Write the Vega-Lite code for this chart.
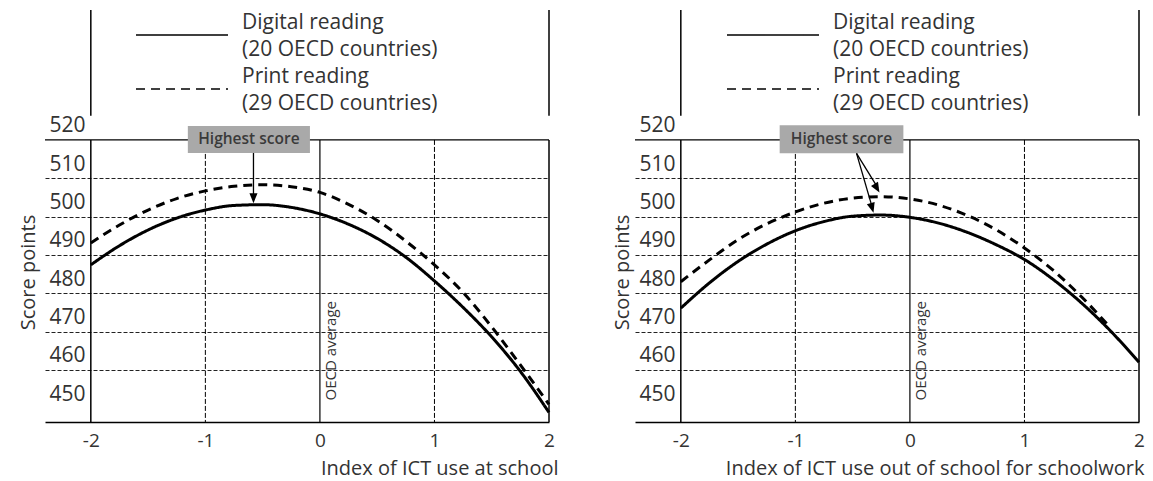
{
  "$schema": "https://vega.github.io/schema/vega-lite/v6.json",
  "background": "white",
  "padding": {"left": 18, "top": 8, "right": 0, "bottom": 8},
  "spacing": 86,
  "bounds": "flush",
  "config": {
    "view": {"stroke": null},
    "font": "Open Sans",
    "axis": {"labelFont": "Open Sans", "titleFont": "Open Sans"},
    "legend": {"labelFont": "Open Sans"},
    "text": {"font": "Open Sans"}
  },
  "datasets": {
    "left": [
      {"x": -2, "score": 487.4, "series": "Digital reading (20 OECD countries)"},
      {"x": -1.75, "score": 492.4, "series": "Digital reading (20 OECD countries)"},
      {"x": -1.5, "score": 496.5, "series": "Digital reading (20 OECD countries)"},
      {"x": -1.25, "score": 499.6, "series": "Digital reading (20 OECD countries)"},
      {"x": -1, "score": 501.7, "series": "Digital reading (20 OECD countries)"},
      {"x": -0.75, "score": 502.9, "series": "Digital reading (20 OECD countries)"},
      {"x": -0.5, "score": 503.1, "series": "Digital reading (20 OECD countries)"},
      {"x": -0.25, "score": 502.4, "series": "Digital reading (20 OECD countries)"},
      {"x": 0, "score": 500.7, "series": "Digital reading (20 OECD countries)"},
      {"x": 0.25, "score": 498.0, "series": "Digital reading (20 OECD countries)"},
      {"x": 0.5, "score": 494.3, "series": "Digital reading (20 OECD countries)"},
      {"x": 0.75, "score": 489.4, "series": "Digital reading (20 OECD countries)"},
      {"x": 1, "score": 483.2, "series": "Digital reading (20 OECD countries)"},
      {"x": 1.25, "score": 476.3, "series": "Digital reading (20 OECD countries)"},
      {"x": 1.5, "score": 468.6, "series": "Digital reading (20 OECD countries)"},
      {"x": 1.75, "score": 459.6, "series": "Digital reading (20 OECD countries)"},
      {"x": 2, "score": 448.9, "series": "Digital reading (20 OECD countries)"},
      {"x": -2, "score": 493.1, "series": "Print reading (29 OECD countries)"},
      {"x": -1.75, "score": 497.8, "series": "Print reading (29 OECD countries)"},
      {"x": -1.5, "score": 501.7, "series": "Print reading (29 OECD countries)"},
      {"x": -1.25, "score": 504.7, "series": "Print reading (29 OECD countries)"},
      {"x": -1, "score": 506.7, "series": "Print reading (29 OECD countries)"},
      {"x": -0.75, "score": 507.9, "series": "Print reading (29 OECD countries)"},
      {"x": -0.5, "score": 508.3, "series": "Print reading (29 OECD countries)"},
      {"x": -0.25, "score": 507.8, "series": "Print reading (29 OECD countries)"},
      {"x": 0, "score": 506.3, "series": "Print reading (29 OECD countries)"},
      {"x": 0.25, "score": 503.2, "series": "Print reading (29 OECD countries)"},
      {"x": 0.5, "score": 499.0, "series": "Print reading (29 OECD countries)"},
      {"x": 0.75, "score": 493.6, "series": "Print reading (29 OECD countries)"},
      {"x": 1, "score": 487.4, "series": "Print reading (29 OECD countries)"},
      {"x": 1.25, "score": 480.2, "series": "Print reading (29 OECD countries)"},
      {"x": 1.5, "score": 471.2, "series": "Print reading (29 OECD countries)"},
      {"x": 1.75, "score": 461.3, "series": "Print reading (29 OECD countries)"},
      {"x": 2, "score": 451.0, "series": "Print reading (29 OECD countries)"}
    ],
    "right": [
      {"x": -2, "score": 476.1, "series": "Digital reading (20 OECD countries)"},
      {"x": -1.75, "score": 482.7, "series": "Digital reading (20 OECD countries)"},
      {"x": -1.5, "score": 488.3, "series": "Digital reading (20 OECD countries)"},
      {"x": -1.25, "score": 492.8, "series": "Digital reading (20 OECD countries)"},
      {"x": -1, "score": 496.3, "series": "Digital reading (20 OECD countries)"},
      {"x": -0.75, "score": 498.7, "series": "Digital reading (20 OECD countries)"},
      {"x": -0.5, "score": 500.1, "series": "Digital reading (20 OECD countries)"},
      {"x": -0.25, "score": 500.4, "series": "Digital reading (20 OECD countries)"},
      {"x": 0, "score": 499.8, "series": "Digital reading (20 OECD countries)"},
      {"x": 0.25, "score": 498.3, "series": "Digital reading (20 OECD countries)"},
      {"x": 0.5, "score": 495.9, "series": "Digital reading (20 OECD countries)"},
      {"x": 0.75, "score": 492.7, "series": "Digital reading (20 OECD countries)"},
      {"x": 1, "score": 488.8, "series": "Digital reading (20 OECD countries)"},
      {"x": 1.25, "score": 483.6, "series": "Digital reading (20 OECD countries)"},
      {"x": 1.5, "score": 477.4, "series": "Digital reading (20 OECD countries)"},
      {"x": 1.75, "score": 470.2, "series": "Digital reading (20 OECD countries)"},
      {"x": 2, "score": 462.0, "series": "Digital reading (20 OECD countries)"},
      {"x": -2, "score": 483.0, "series": "Print reading (29 OECD countries)"},
      {"x": -1.75, "score": 488.7, "series": "Print reading (29 OECD countries)"},
      {"x": -1.5, "score": 494.0, "series": "Print reading (29 OECD countries)"},
      {"x": -1.25, "score": 498.1, "series": "Print reading (29 OECD countries)"},
      {"x": -1, "score": 501.2, "series": "Print reading (29 OECD countries)"},
      {"x": -0.75, "score": 503.5, "series": "Print reading (29 OECD countries)"},
      {"x": -0.5, "score": 504.8, "series": "Print reading (29 OECD countries)"},
      {"x": -0.25, "score": 505.2, "series": "Print reading (29 OECD countries)"},
      {"x": 0, "score": 504.6, "series": "Print reading (29 OECD countries)"},
      {"x": 0.25, "score": 503.0, "series": "Print reading (29 OECD countries)"},
      {"x": 0.5, "score": 500.3, "series": "Print reading (29 OECD countries)"},
      {"x": 0.75, "score": 496.6, "series": "Print reading (29 OECD countries)"},
      {"x": 1, "score": 491.8, "series": "Print reading (29 OECD countries)"},
      {"x": 1.25, "score": 486.0, "series": "Print reading (29 OECD countries)"},
      {"x": 1.5, "score": 479.0, "series": "Print reading (29 OECD countries)"},
      {"x": 1.75, "score": 471.0, "series": "Print reading (29 OECD countries)"}
    ],
    "one": [{"note": "annotation"}],
    "innerLines": [{"v": -1}, {"v": 1}],
    "frameLines": [{"v": -2}, {"v": 2}]
  },
  "resolve": {"scale": {"strokeDash": "independent"}, "legend": {"strokeDash": "independent"}},
  "hconcat": [
    {
      "width": 504,
      "height": 412,
      "layer": [
        {"data": {"name": "left"},
         "mark": {"type": "line", "interpolate": "monotone", "strokeWidth": 3, "color": "black"},
         "encoding": {
           "x": {"field": "x", "type": "quantitative", "scale": {"domain": [-2.4, 2], "nice": false, "zero": false},
                 "axis": {"values": [-2, -1, 0, 1, 2], "title": "Index of ICT use at school", "grid": false, "ticks": false,
                          "domain": true, "domainColor": "black", "domainWidth": 1.5, "labelFontSize": 19, "labelPadding": 9,
                          "labelColor": "#333", "labelFlush": false,
                          "labelExpr": "datum.value < 0 ? '-' + abs(datum.value) : '' + datum.value",
                          "titleFontSize": 20, "titleFontWeight": "normal", "titleColor": "#333",
                          "titleX": 513, "titleY": 46, "titleAlign": "right", "titleBaseline": "middle"}},
           "y": {"field": "score", "type": "quantitative", "scale": {"domain": [446.4, 553.9], "nice": false, "zero": false},
                 "axis": {"values": [450, 460, 470, 480, 490, 500, 510, 520], "title": "Score points",
                          "grid": true, "gridDash": [4, 2], "gridColor": "#222", "gridWidth": 1,
                          "gridOpacity": {"condition": {"test": "datum.value < 455 || datum.value > 515", "value": 0}, "value": 1},
                          "domain": false, "ticks": false, "tickSize": 0, "labelPadding": -40, "labelAlign": "right",
                          "labelBaseline": "middle", "labelOffset": -14, "labelFontSize": 21, "labelColor": "#333",
                          "labelFlush": false, "labelOverlap": false,
                          "titleFontSize": 20, "titleFontWeight": "normal", "titleColor": "#333",
                          "titleX": -17, "titleY": 262, "titleAlign": "center", "titleBaseline": "middle", "titleAngle": -90}},
           "strokeDash": {"field": "series", "type": "nominal",
                          "scale": {"domain": ["Digital reading (20 OECD countries)", "Print reading (29 OECD countries)"], "range": [[1, 0], [9, 6]]},
                          "legend": {"orient": "none", "legendX": 90, "legendY": -2, "title": null, "symbolType": "stroke",
                                     "symbolSize": 8464, "symbolStrokeWidth": 1.5, "symbolStrokeColor": "black", "clipHeight": 54,
                                     "rowPadding": 0, "padding": 0, "labelFontSize": 21, "labelColor": "#333", "labelOffset": 13,
                                     "labelLimit": 0, "labelBaseline": "middle",
                                     "labelExpr": "[slice(datum.label, 0, indexof(datum.label, ' (')), slice(datum.label, indexof(datum.label, ' (') + 1)]",
                                     "encode": {"symbols": {"update": {"strokeDash": {"signal": "indexof(datum.value, 'Print') == 0 ? [4, 2] : [1, 0]"}}},
                                                "labels": {"update": {"lineHeight": {"value": 27}, "dy": {"value": -12.5}}}}}}
         }},
        {"data": {"name": "one"}, "mark": {"type": "rule", "color": "black", "strokeWidth": 1.3},
         "encoding": {"y": {"datum": 520, "type": "quantitative"}}},
        {"data": {"name": "innerLines"}, "mark": {"type": "rule", "color": "black", "strokeWidth": 1, "strokeDash": [5, 2]},
         "encoding": {"x": {"field": "v", "type": "quantitative"},
                      "y": {"datum": 520, "type": "quantitative"},
                      "y2": {"datum": 446.4}}},
        {"data": {"name": "one"}, "mark": {"type": "rule", "color": "black", "strokeWidth": 1.2},
         "encoding": {"x": {"datum": 0, "type": "quantitative"},
                      "y": {"datum": 520, "type": "quantitative"},
                      "y2": {"datum": 446.4}}},
        {"data": {"name": "frameLines"}, "mark": {"type": "rule", "color": "black", "strokeWidth": 1.5},
         "encoding": {"x": {"field": "v", "type": "quantitative"},
                      "y": {"datum": 520, "type": "quantitative"},
                      "y2": {"datum": 446.4}}},
        {"data": {"name": "frameLines"}, "mark": {"type": "rule", "color": "black", "strokeWidth": 1.5},
         "encoding": {"x": {"field": "v", "type": "quantitative"},
                      "y": {"datum": 553.9, "type": "quantitative"},
                      "y2": {"datum": 526.3}}},
        {"data": {"name": "one"}, "mark": {"type": "text", "text": "OECD average", "angle": 270, "align": "left", "baseline": "top", "dy": 4, "fontSize": 15, "color": "#333"},
         "encoding": {"x": {"datum": 0, "type": "quantitative"},
                      "y": {"datum": 452, "type": "quantitative"}}},
        {"data": {"name": "one"}, "mark": {"type": "rect", "color": "#a9a9a9"},
         "encoding": {"x": {"datum": -1.153, "type": "quantitative"},
                      "x2": {"datum": -0.087},
                      "y": {"datum": 523.65, "type": "quantitative"},
                      "y2": {"datum": 516.6}}},
        {"data": {"name": "one"}, "mark": {"type": "text", "text": "Highest score", "fontSize": 15.5, "fontWeight": 600, "color": "#3a3a3a", "align": "center", "baseline": "middle"},
         "encoding": {"x": {"datum": -0.62, "type": "quantitative"},
                      "y": {"datum": 520.2, "type": "quantitative"}}},
        {"data": {"name": "one"}, "mark": {"type": "rule", "color": "black", "strokeWidth": 1.3},
         "encoding": {"x": {"datum": -0.58, "type": "quantitative"},
                      "y": {"datum": 516.6, "type": "quantitative"},
                      "y2": {"datum": 505}}},
        {"data": {"name": "one"}, "mark": {"type": "point", "shape": "M0,0L-0.45,-1.1L0.45,-1.1Z", "size": 324, "filled": true, "opacity": 1, "color": "black", "strokeWidth": 0},
         "encoding": {"x": {"datum": -0.58, "type": "quantitative"},
                      "y": {"datum": 503.5, "type": "quantitative"}}}
      ]
    },
    {
      "width": 504,
      "height": 412,
      "layer": [
        {"data": {"name": "right"},
         "mark": {"type": "line", "interpolate": "monotone", "strokeWidth": 3, "color": "black"},
         "encoding": {
           "x": {"field": "x", "type": "quantitative", "scale": {"domain": [-2.4, 2], "nice": false, "zero": false},
                 "axis": {"values": [-2, -1, 0, 1, 2], "title": "Index of ICT use out of school for schoolwork", "grid": false, "ticks": false,
                          "domain": true, "domainColor": "black", "domainWidth": 1.5, "labelFontSize": 19, "labelPadding": 9,
                          "labelColor": "#333", "labelFlush": false,
                          "labelExpr": "datum.value < 0 ? '-' + abs(datum.value) : '' + datum.value",
                          "titleFontSize": 20, "titleFontWeight": "normal", "titleColor": "#333",
                          "titleX": 509, "titleY": 46, "titleAlign": "right", "titleBaseline": "middle"}},
           "y": {"field": "score", "type": "quantitative", "scale": {"domain": [446.4, 553.9], "nice": false, "zero": false},
                 "axis": {"values": [450, 460, 470, 480, 490, 500, 510, 520], "title": "Score points",
                          "grid": true, "gridDash": [4, 2], "gridColor": "#222", "gridWidth": 1,
                          "gridOpacity": {"condition": {"test": "datum.value < 455 || datum.value > 515", "value": 0}, "value": 1},
                          "domain": false, "ticks": false, "tickSize": 0, "labelPadding": -40, "labelAlign": "right",
                          "labelBaseline": "middle", "labelOffset": -14, "labelFontSize": 21, "labelColor": "#333",
                          "labelFlush": false, "labelOverlap": false,
                          "titleFontSize": 20, "titleFontWeight": "normal", "titleColor": "#333",
                          "titleX": -13, "titleY": 262, "titleAlign": "center", "titleBaseline": "middle", "titleAngle": -90}},
           "strokeDash": {"field": "series", "type": "nominal",
                          "scale": {"domain": ["Digital reading (20 OECD countries)", "Print reading (29 OECD countries)"], "range": [[1, 0], [9, 6]]},
                          "legend": {"orient": "none", "legendX": 91, "legendY": -2, "title": null, "symbolType": "stroke",
                                     "symbolSize": 8464, "symbolStrokeWidth": 1.5, "symbolStrokeColor": "black", "clipHeight": 54,
                                     "rowPadding": 0, "padding": 0, "labelFontSize": 21, "labelColor": "#333", "labelOffset": 13,
                                     "labelLimit": 0, "labelBaseline": "middle",
                                     "labelExpr": "[slice(datum.label, 0, indexof(datum.label, ' (')), slice(datum.label, indexof(datum.label, ' (') + 1)]",
                                     "encode": {"symbols": {"update": {"strokeDash": {"signal": "indexof(datum.value, 'Print') == 0 ? [4, 2] : [1, 0]"}}},
                                                "labels": {"update": {"lineHeight": {"value": 27}, "dy": {"value": -12.5}}}}}}
         }},
        {"data": {"name": "one"}, "mark": {"type": "rule", "color": "black", "strokeWidth": 1.3},
         "encoding": {"y": {"datum": 520, "type": "quantitative"}}},
        {"data": {"name": "innerLines"}, "mark": {"type": "rule", "color": "black", "strokeWidth": 1, "strokeDash": [5, 2]},
         "encoding": {"x": {"field": "v", "type": "quantitative"},
                      "y": {"datum": 520, "type": "quantitative"},
                      "y2": {"datum": 446.4}}},
        {"data": {"name": "one"}, "mark": {"type": "rule", "color": "black", "strokeWidth": 1.2},
         "encoding": {"x": {"datum": 0, "type": "quantitative"},
                      "y": {"datum": 520, "type": "quantitative"},
                      "y2": {"datum": 446.4}}},
        {"data": {"name": "frameLines"}, "mark": {"type": "rule", "color": "black", "strokeWidth": 1.5},
         "encoding": {"x": {"field": "v", "type": "quantitative"},
                      "y": {"datum": 520, "type": "quantitative"},
                      "y2": {"datum": 446.4}}},
        {"data": {"name": "frameLines"}, "mark": {"type": "rule", "color": "black", "strokeWidth": 1.5},
         "encoding": {"x": {"field": "v", "type": "quantitative"},
                      "y": {"datum": 553.9, "type": "quantitative"},
                      "y2": {"datum": 526.3}}},
        {"data": {"name": "one"}, "mark": {"type": "text", "text": "OECD average", "angle": 270, "align": "left", "baseline": "top", "dy": 4, "fontSize": 15, "color": "#333"},
         "encoding": {"x": {"datum": 0, "type": "quantitative"},
                      "y": {"datum": 452, "type": "quantitative"}}},
        {"data": {"name": "one"}, "mark": {"type": "rect", "color": "#a9a9a9"},
         "encoding": {"x": {"datum": -1.137, "type": "quantitative"},
                      "x2": {"datum": -0.057},
                      "y": {"datum": 523.85, "type": "quantitative"},
                      "y2": {"datum": 516.5}}},
        {"data": {"name": "one"}, "mark": {"type": "text", "text": "Highest score", "fontSize": 15.5, "fontWeight": 600, "color": "#3a3a3a", "align": "center", "baseline": "middle"},
         "encoding": {"x": {"datum": -0.597, "type": "quantitative"},
                      "y": {"datum": 520.2, "type": "quantitative"}}},
        {"data": {"name": "one"}, "mark": {"type": "rule", "color": "black", "strokeWidth": 1.3},
         "encoding": {"x": {"datum": -0.466, "type": "quantitative"},
                      "x2": {"datum": -0.28},
                      "y": {"datum": 516.5, "type": "quantitative"},
                      "y2": {"datum": 507.5}}},
        {"data": {"name": "one"}, "mark": {"type": "rule", "color": "black", "strokeWidth": 1.3},
         "encoding": {"x": {"datum": -0.466, "type": "quantitative"},
                      "x2": {"datum": -0.325},
                      "y": {"datum": 516.5, "type": "quantitative"},
                      "y2": {"datum": 502}}},
        {"data": {"name": "one"}, "mark": {"type": "point", "shape": "M0,0L-0.45,-1.1L0.45,-1.1Z", "size": 324, "filled": true, "opacity": 1, "color": "black", "strokeWidth": 0, "angle": -30},
         "encoding": {"x": {"datum": -0.266, "type": "quantitative"},
                      "y": {"datum": 506.3, "type": "quantitative"}}},
        {"data": {"name": "one"}, "mark": {"type": "point", "shape": "M0,0L-0.45,-1.1L0.45,-1.1Z", "size": 324, "filled": true, "opacity": 1, "color": "black", "strokeWidth": 0, "angle": -16},
         "encoding": {"x": {"datum": -0.318, "type": "quantitative"},
                      "y": {"datum": 501.0, "type": "quantitative"}}}
      ]
    }
  ]
}
